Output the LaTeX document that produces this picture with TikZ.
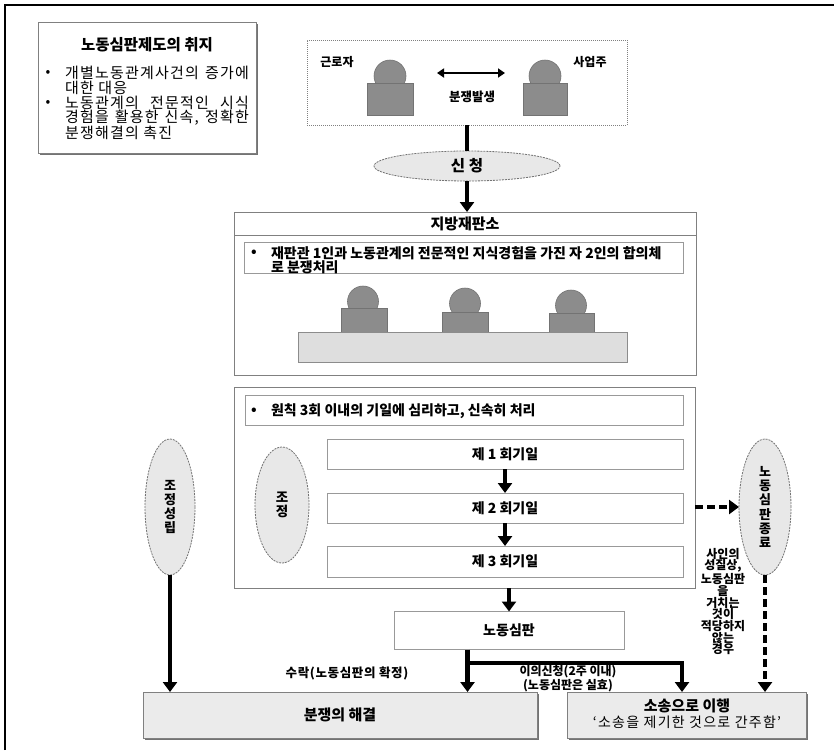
\documentclass[tikz,border=0pt]{standalone}
\usepackage{fontspec}
\setmainfont{Noto Sans CJK KR}
\usetikzlibrary{arrows.meta,shapes.geometric,shadows}

\newcommand{\fs}[2]{\fontsize{#1}{#2}\selectfont}
% a line spread to a fixed width, letters slightly tracked
\newcommand{\spreadline}[2]{\makebox[#1][s]{\addfontfeatures{LetterSpace=8}#2}}

\begin{document}
\begin{tikzpicture}[x=1pt,y=-1pt,
  every node/.style={inner sep=0pt, outer sep=0pt},
  panel/.style={rectangle, draw=black!50, line width=0.9pt},
  slot/.style={rectangle, draw=black!40, line width=0.8pt, fill=white},
  persona/.style={fill=black!45, draw=black!55, line width=0.6pt},
  oval/.style={ellipse, draw=black!55, dash pattern=on 2pt off 1pt, line width=0.8pt, fill=black!9},
  shade/.style={drop shadow={shadow xshift=2pt, shadow yshift=-2pt, fill=black!55, opacity=1}},
  flow/.style={line width=4.5pt, -{Triangle[width=14pt,length=10pt]}},
  dflow/.style={flow, dash pattern=on 8pt off 4pt},
  bold/.style={font=\bfseries\fs{14}{16}},
  body/.style={font=\fs{15}{16}, anchor=west},
]
\useasboundingbox (0,0) rectangle (834,750);

% page frame (top and left rules)
\draw[line width=1.2pt] (5,750) -- (5,5) -- (834,5);

% ---- purpose of the labour tribunal system ----
\node[panel, fill=white, shade, minimum width=218pt, minimum height=131pt] (purpose) at (147,87.5) {};
\node[font=\bfseries\fs{15.5}{17}] (purposeTitle) at (147,45) {노동심판제도의 취지};
\node[font=\fs{14}{15}] (bulA) at (48,73) {•};
\node[body] (pa1) at (65,73) {\spreadline{184pt}{개별노동관계사건의 증가에}};
\node[body] (pa2) at (65,88) {\addfontfeatures{LetterSpace=8}대한 대응};
\node[font=\fs{14}{15}] (bulB) at (48,103) {•};
\node[body] (pb1) at (65,103) {\spreadline{184pt}{노동관계의 전문적인 시식}};
\node[body] (pb2) at (65,118) {\spreadline{184pt}{경험을 활용한 신속, 정확한}};
\node[body] (pb3) at (65,133) {\addfontfeatures{LetterSpace=8}분쟁해결의 촉진};

% ---- dispute between worker and employer ----
\node[rectangle, draw=black!50, dash pattern=on 1pt off 1pt, line width=0.9pt,
      minimum width=320pt, minimum height=85pt] (conflict) at (467,82.5) {};
\node[persona, circle, minimum size=32pt] (wHead) at (390,76) {};
\node[persona, minimum width=46pt, minimum height=32pt] (wBody) at (390,99) {};
\node[persona, circle, minimum size=32pt] (eHead) at (545,76) {};
\node[persona, minimum width=44pt, minimum height=32pt] (eBody) at (545,99) {};
\node[font=\bfseries\fs{12}{14}] (worker) at (337,62) {근로자};
\node[font=\bfseries\fs{12}{14}] (employer) at (590,62) {사업주};
\node[font=\bfseries\fs{12.5}{14}] (dispute) at (472,97) {분쟁발생};
\coordinate (pL) at (437,73);
\coordinate (pR) at (505,73);
\draw[line width=2.5pt, {Triangle[width=9pt,length=7pt]}-{Triangle[width=9pt,length=7pt]}] (pL) -- (pR);

% ---- application ----
\node[oval, minimum width=186pt, minimum height=30pt, font=\bfseries\fs{15.5}{17}] (apply) at (467,166) {신 청};
\draw[line width=4.5pt] (conflict.south) -- (apply.north);

% ---- district court ----
\node[panel, minimum width=462pt, minimum height=163pt] (court) at (465,293.5) {};
\draw[draw=black!50, line width=0.9pt] ([yshift=-23pt]court.north west) -- ([yshift=-23pt]court.north east);
\node[font=\bfseries\fs{15}{17}] (courtTitle) at (465,224) {지방재판소};
\draw[flow] (apply.south) -- (apply.south |- court.north);
\node[slot, minimum width=439pt, minimum height=31pt] (panelNote) at (463.5,257.5) {};
\node[bold] (bulC) at (254,253) {•};
\node[bold, anchor=west] (panelTxtA) at (271,253) {재판관 1인과 노동관계의 전문적인 지식경험을 가진 자 2인의 합의체};
\node[bold, anchor=west] (panelTxtB) at (271,267) {로 분쟁처리};

% bench with three judges
\node[persona, circle, minimum size=31pt] (j1Head) at (363,301.5) {};
\node[persona, circle, minimum size=31pt] (j2Head) at (465,303.5) {};
\node[persona, circle, minimum size=31pt] (j3Head) at (571,305.5) {};
\node[persona, minimum width=46pt, minimum height=24pt] (j1Body) at (364,320) {};
\node[persona, minimum width=46pt, minimum height=20pt] (j2Body) at (465,322) {};
\node[persona, minimum width=45pt, minimum height=19pt] (j3Body) at (571.5,322.5) {};
\node[fill=black!13, draw=black!45, line width=0.8pt, minimum width=329pt, minimum height=30pt] (bench) at (462.5,347) {};

% ---- hearing procedure ----
\node[panel, minimum width=461pt, minimum height=201pt] (proc) at (464.5,487.5) {};
\node[slot, minimum width=438pt, minimum height=30pt] (procNote) at (464,410) {};
\node[bold] (bulD) at (254,411) {•};
\node[bold, anchor=west] (procTxt) at (271,411) {원칙 3회 이내의 기일에 심리하고, 신속히 처리};
\node[slot, bold, minimum width=356pt, minimum height=30pt] (d1) at (505,454) {제 1 회기일};
\node[slot, bold, minimum width=356pt, minimum height=30pt] (d2) at (505,508) {제 2 회기일};
\node[slot, bold, minimum width=356pt, minimum height=31pt] (d3) at (505,561.5) {제 3 회기일};
\draw[flow] (d1.south) -- (d2.north);
\draw[flow] (d2.south) -- (d3.north);
\node[oval, align=center, minimum width=54pt, minimum height=116pt, font=\bfseries\fs{13.5}{14}] (mediation) at (282,505) {조\\정};

% ---- side outcomes ----
\node[oval, align=center, minimum width=50pt, minimum height=136pt, font=\bfseries\fs{13}{14.3}] (settled) at (170,507) {조\\정\\성\\립};
\node[oval, align=center, minimum width=52pt, minimum height=136pt, font=\bfseries\fs{13}{14.3}] (ended) at (765,507) {노\\동\\심\\판\\종\\료};
\draw[dflow] (proc.east |- ended.west) -- (ended.west);
\node[align=center, font=\bfseries\fs{12}{11.7}] (reason) at (723,601.5)
  {사인의\\성질상,\\노동심판\\을\\거치는\\것이\\적당하지\\않는\\경우};

% ---- labour tribunal decision ----
\node[slot, minimum width=230pt, minimum height=38pt, font=\bfseries\fs{14}{16}] (ruling) at (509,630.5) {노동심판};
\draw[flow] (ruling.north |- proc.south) -- (ruling.north);

% ---- final results ----
\node[panel, fill=black!8, shade, minimum width=394pt, minimum height=46pt, font=\bfseries\fs{15}{17}] (resolved) at (340,715) {분쟁의 해결};
\node[panel, fill=black!8, shade, minimum width=239pt, minimum height=46pt] (lawsuit) at (686.5,715) {};
\node[font=\bfseries\fs{15}{16}] (lawsuitTitle) at (687,706) {소송으로 이행};
\node[font=\fs{14}{15}] (lawsuitNote) at (687,722) {\addfontfeatures{LetterSpace=9}‘소송을 제기한 것으로 간주함’};

\draw[flow] (settled.south) -- (settled.south |- resolved.north);
\draw[dflow] (ended.south) -- (ended.south |- lawsuit.north);
\coordinate (fork) at (467.5,663);
\draw[line width=4.5pt] ([xshift=-41.5pt]ruling.south) -- (fork);
\draw[flow] (fork) -- (fork |- resolved.north);
\draw[flow] ([xshift=-2.25pt]fork) -| ([xshift=-4.5pt]lawsuit.north);
\node[font=\bfseries\fs{12.5}{14}] (acceptTxt) at (347,673) {\addfontfeatures{LetterSpace=5}수락(노동심판의 확정)};
\node[align=center, font=\bfseries\fs{12}{14.5}] (objectTxt) at (568,678.5) {이의신청(2주 이내)\\(노동심판은 실효)};

\end{tikzpicture}
\end{document}
